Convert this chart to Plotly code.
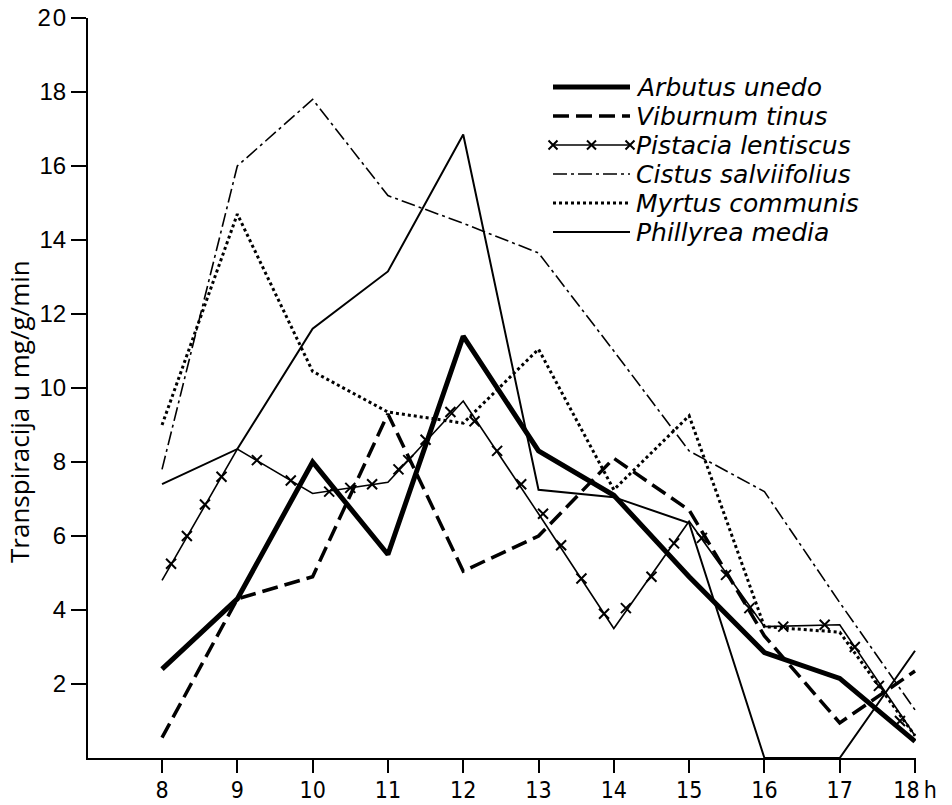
import plotly.graph_objects as go

hours = [8, 9, 10, 11, 12, 13, 14, 15, 16, 17, 18]
arbutus = [2.4, 4.3, 8.0, 5.5, 11.4, 8.3, 7.1, 4.9, 2.85, 2.15, 0.45]
viburnum = [0.55, 4.3, 4.9, 9.3, 5.05, 6.0, 8.1, 6.7, 3.3, 0.95, 2.35]
pistacia = [4.8, 8.35, 7.15, 7.45, 9.65, 6.6, 3.5, 6.4, 3.55, 3.6, 0.6]
cistus = [7.8, 16.0, 17.8, 15.2, 14.45, 13.65, 11.0, 8.3, 7.2, 4.2, 1.3]
myrtus = [9.0, 14.7, 10.45, 9.35, 9.05, 11.05, 7.25, 9.25, 3.55, 3.4, 0.6]
phillyrea = [7.4, 8.35, 11.6, 13.15, 16.85, 7.25, 7.05, 6.35, 0.0, 0.0, 2.9]

# cross marks drawn along the Pistacia line
pist_mark_x = [8.12, 8.33, 8.57, 8.79, 9.26, 9.71, 10.22, 10.5, 10.79, 11.14, 11.27,
               11.5, 11.83, 12.15, 12.45, 12.77, 13.06, 13.3, 13.57, 13.87, 14.16,
               14.5, 14.8, 15.17, 15.49, 15.8, 16.25, 16.8, 17.2, 17.52, 17.8]
pist_mark_y = [5.25, 6.0, 6.85, 7.6, 8.05, 7.5, 7.2, 7.3, 7.4, 7.8, 8.05,
               8.6, 9.35, 9.1, 8.3, 7.4, 6.6, 5.75, 4.85, 3.9, 4.05,
               4.9, 5.8, 5.95, 4.95, 4.05, 3.55, 3.6, 3.0, 1.95, 1.0]

y_ticks = [2, 4, 6, 8, 10, 12, 14, 16, 18, 20]
y_ticktext = ["2", "4", "6", "8", "10", "12", "14", "16", "18", "2\u200a0"]
x_ticks = hours
x_ticktext = ["8", "9", "10", "11", "12", "13", "14", "15", "16", "17", "18\u2009h"]

names = ["Arbutus unedo", "Viburnum tinus", "Pistacia lentiscus",
         "Cistus salviifolius", "Myrtus communis", "Phillyrea media"]

styles = {
    "Arbutus unedo": dict(width=5, dash="solid"),
    "Viburnum tinus": dict(width=3.5, dash="16px,7px"),
    "Pistacia lentiscus": dict(width=1.6, dash="solid"),
    "Cistus salviifolius": dict(width=1.6, dash="14px,4px,3px,4px"),
    "Myrtus communis": dict(width=3, dash="3px,3px"),
    "Phillyrea media": dict(width=2, dash="solid"),
}
series = {
    "Arbutus unedo": arbutus,
    "Viburnum tinus": viburnum,
    "Pistacia lentiscus": pistacia,
    "Cistus salviifolius": cistus,
    "Myrtus communis": myrtus,
    "Phillyrea media": phillyrea,
}

fig = go.Figure()
for n in names:
    st = styles[n]
    fig.add_trace(go.Scatter(x=hours, y=series[n], mode="lines", name=n,
                             line=dict(color="black", width=st["width"], dash=st["dash"]),
                             showlegend=False))
fig.add_trace(go.Scatter(x=pist_mark_x, y=pist_mark_y, mode="markers", showlegend=False,
                         marker=dict(symbol="x-thin", size=10, color="black",
                                     line=dict(color="black", width=2))))

# plot area in screen pixels (page body margin removed below)
PL, PR, PT, PB = 88, 916, 18, 758
W, H = 952, 805
L, R, T, B = PL, W - PR, PT, H - PB

# custom legend drawn on an overlay axis in screen pixel units
leg_x0, leg_x1, leg_text_x = 553, 630, 634
leg_y0, leg_dy = 87, 29
for i, n in enumerate(names):
    yy = leg_y0 + i * leg_dy
    st = styles[n]
    fig.add_trace(go.Scatter(x=[leg_x0, leg_x1], y=[yy, yy], mode="lines",
                             xaxis="x2", yaxis="y2", showlegend=False, hoverinfo="skip",
                             line=dict(color="black", width=st["width"], dash=st["dash"])))
    if n == "Pistacia lentiscus":
        fig.add_trace(go.Scatter(x=[leg_x0, (leg_x0 + leg_x1) / 2, leg_x1], y=[yy, yy, yy],
                                 mode="markers", xaxis="x2", yaxis="y2", showlegend=False,
                                 hoverinfo="skip",
                                 marker=dict(symbol="x-thin", size=9, color="black",
                                             line=dict(color="black", width=2))))
    fig.add_annotation(x=leg_text_x, y=yy, xref="x2", yref="y2", text=n, showarrow=False,
                       xanchor="left", yanchor="middle",
                       font=dict(family="DejaVu Sans", size=25, color="black", style="italic"))

# y-axis title
fig.add_annotation(x=(19 - PL) / (PR - PL), y=(PB - 412) / (PB - PT), xref="paper", yref="paper",
                   text="Transpiracija u mg/g/min", textangle=-90, showarrow=False,
                   xanchor="center", yanchor="middle",
                   font=dict(family="Open Sans", size=26, color="black"))

fig.update_layout(
    width=W, height=H,
    margin=dict(l=L, r=R, t=T, b=B, autoexpand=False),
    paper_bgcolor="white", plot_bgcolor="white",
    showlegend=False,
    xaxis=dict(range=[7.017, 18.013], tickvals=x_ticks, ticktext=x_ticktext, automargin=False,
               showgrid=False, zeroline=False, showline=True, linecolor="black", linewidth=2,
               ticks="outside", ticklen=13, tickwidth=1.5, tickcolor="black",
               ticklabelstandoff=-3, ticklabeloverflow="allow",
               tickfont=dict(family="Liberation Sans Narrow, DejaVu Sans Condensed, sans-serif",
                             size=23, color="black")),
    yaxis=dict(range=[0, 20], tickvals=y_ticks, ticktext=y_ticktext, automargin=False,
               showgrid=False, zeroline=False, showline=True, linecolor="black", linewidth=2,
               ticks="outside", ticklen=15, tickwidth=1.5, tickcolor="black",
               ticklabeloverflow="allow",
               tickfont=dict(family="Liberation Sans, Arial, sans-serif", size=24, color="black")),
    xaxis2=dict(range=[PL, PR], overlaying="x", visible=False, fixedrange=True, automargin=False),
    yaxis2=dict(range=[PB, PT], overlaying="y", visible=False, fixedrange=True, automargin=False),
)

fig.write_html("out.html", config={"displayModeBar": False},
               post_script="document.body.style.margin='0px';")
